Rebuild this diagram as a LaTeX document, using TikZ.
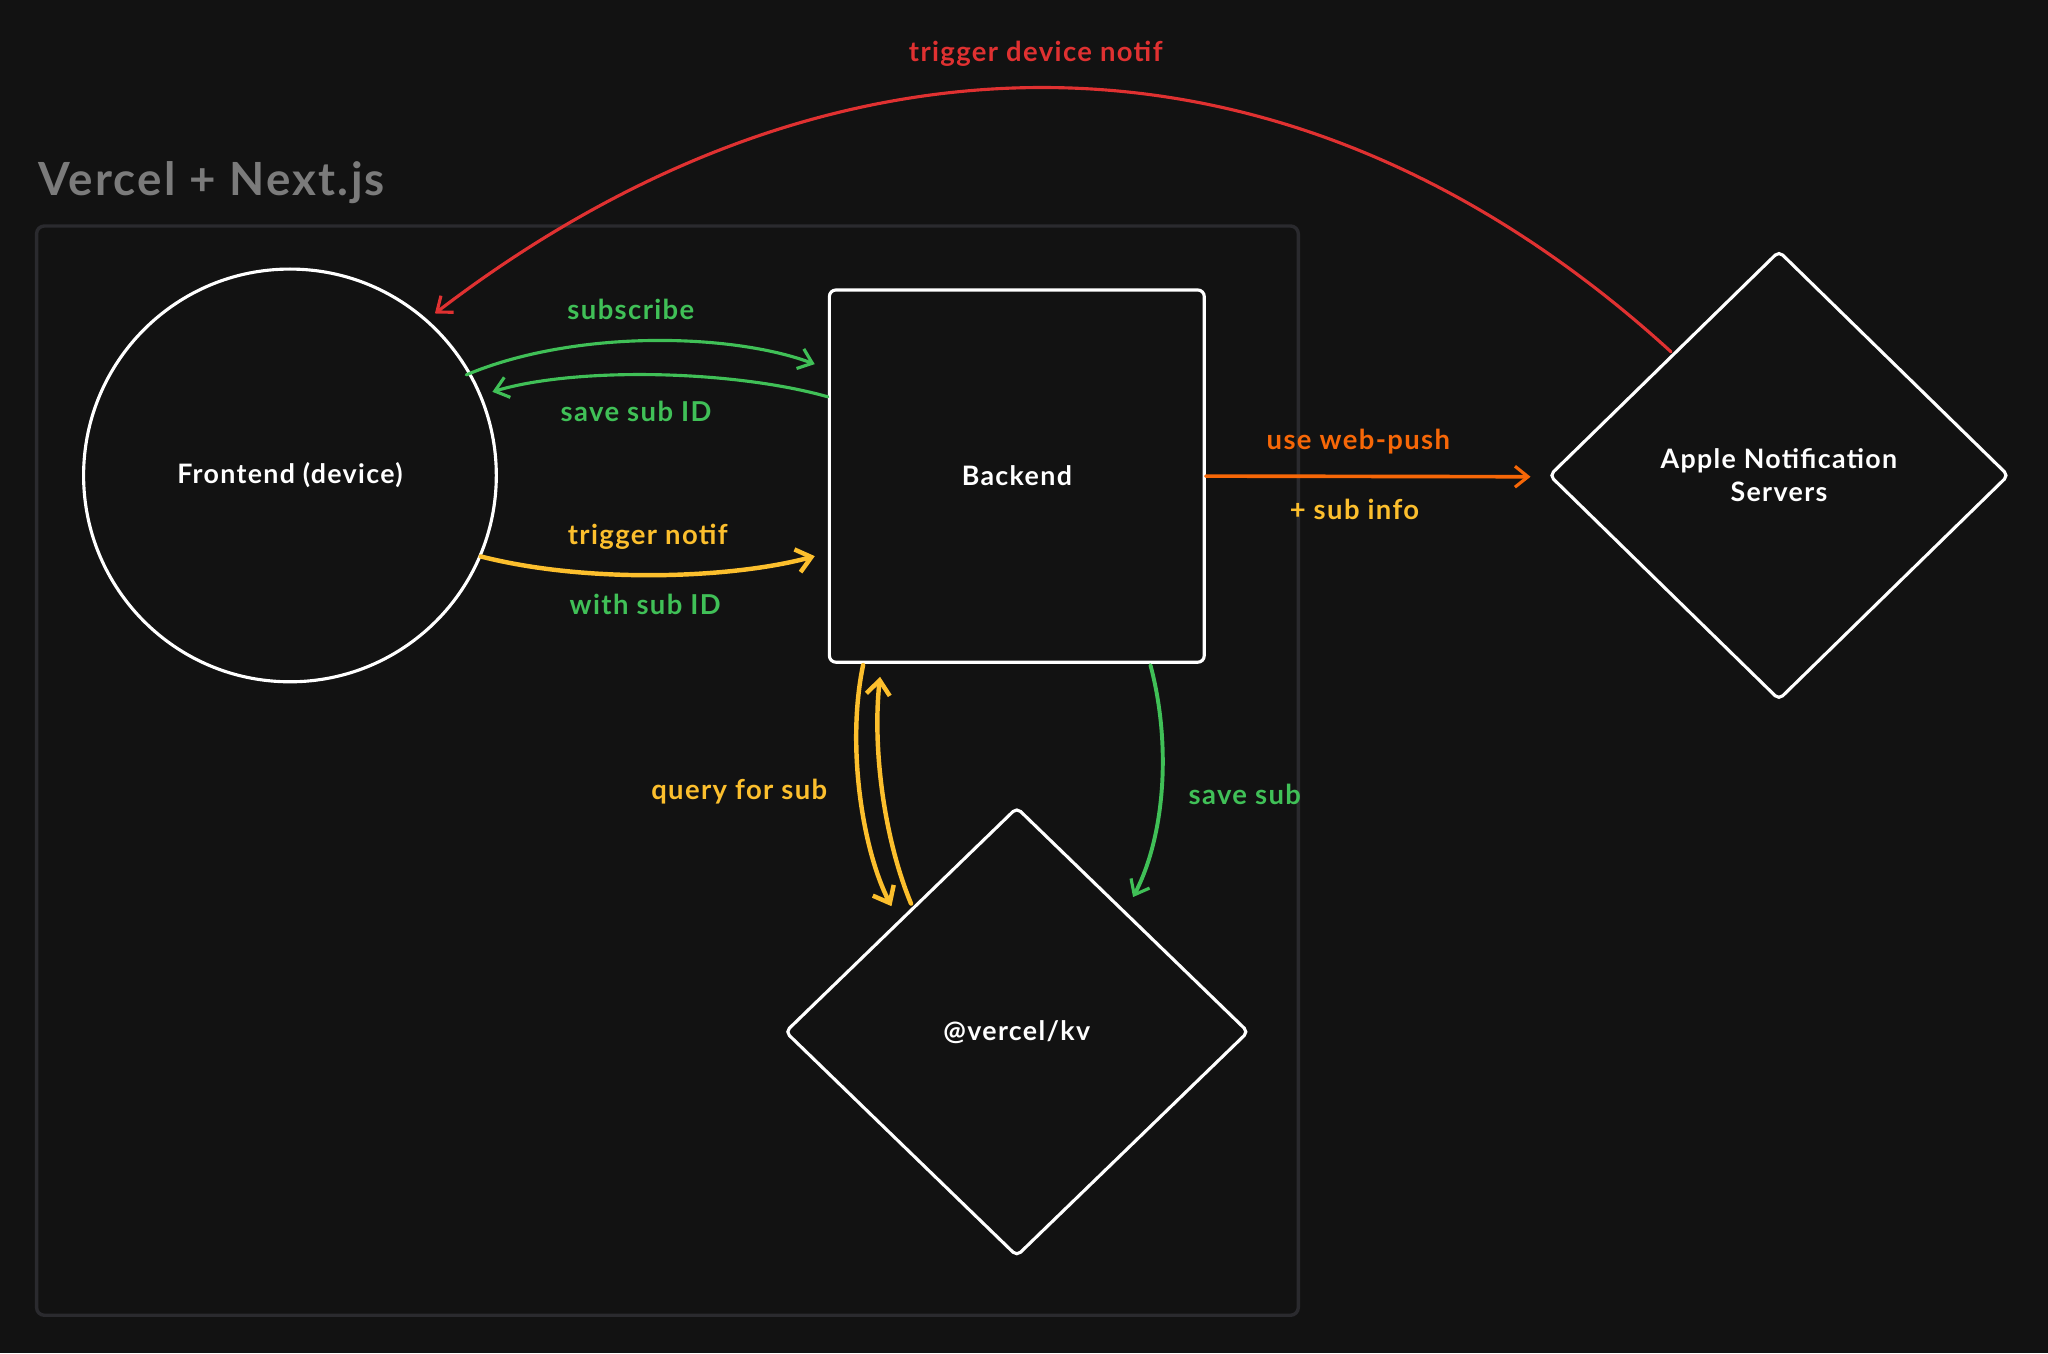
\documentclass[tikz,border=0pt]{standalone}
\usepackage{fontspec}
\setmainfont{Lato}[LetterSpace=5]
\usetikzlibrary{arrows.meta,shapes.geometric,calc}
\definecolor{bgc}{HTML}{121212}
\definecolor{framec}{HTML}{2A2A2E}
\definecolor{titlec}{HTML}{7B7B7B}
\definecolor{gre}{HTML}{40C057}
\definecolor{yel}{HTML}{FCBF2D}
\definecolor{ora}{HTML}{F76707}
\definecolor{redc}{HTML}{E03131}
\begin{document}
\begin{tikzpicture}[x=1pt,y=-1pt,
  shapebox/.style={draw=white, line width=2.4pt, text=white, inner sep=0pt,
     font=\fontsize{20.5pt}{25pt}\selectfont\bfseries, align=center},
  lbl/.style={font=\fontsize{21pt}{25pt}\selectfont\bfseries, inner sep=0pt},
  conn/.style={line width=2.4pt, line cap=round, line join=round,
     -{Straight Barb[length=10pt,width=16pt,line width=2.4pt]}},
  thick conn/.style={line width=3.4pt, line cap=round, line join=round,
     -{Straight Barb[length=11pt,width=18pt,line width=3.4pt]}}]
\fill[bgc] (0,0) rectangle (1568,1036);
\useasboundingbox (0,0) rectangle (1568,1036);

% frame
\node[draw=framec, line width=2.6pt, rounded corners=6pt, minimum width=966pt,
  minimum height=834pt, inner sep=0pt] (frame) at (511,590) {};
\node[anchor=west, text=titlec, font=\fontsize{35pt}{40pt}\selectfont\bfseries,
  inner sep=0pt] (title) at (29,140) {Vercel + Next.js};

% nodes
\node[shapebox, circle, minimum size=316pt] (fe) at (222,364) {Frontend (device)};
\node[shapebox, rectangle, rounded corners=5pt, minimum width=287pt,
  minimum height=285pt] (be) at (778.5,364.5) {Backend};
\node[shapebox, diamond, rounded corners=4pt, minimum width=352pt,
  minimum height=344pt] (apple) at (1362,364) {Apple Notification\\Servers};
\node[shapebox, diamond, rounded corners=4pt, minimum width=355pt,
  minimum height=344pt] (kv) at (778.5,790) {@vercel/kv};

% coordinates for connector ends
\coordinate (subS) at ($(fe.center)+(135,-77)$);
\coordinate (subE) at ($(be.north west)+(-10,58)$);
\coordinate (sidS) at ($(be.north west)+(0,83)$);
\coordinate (sidE) at ($(fe.center)+(155,-64)$);
\coordinate (trS) at ($(fe.center)+(146,62)$);
\coordinate (trE) at ($(be.north west)+(-10,205)$);
\coordinate (redS) at ($(apple.north west)+(6,-8)$);
\coordinate (redE) at ($(fe.center)+(111,-124)$);
\coordinate (oE) at ($(apple.west)+(-13,1)$);
\coordinate (qS) at ($(be.south west)+(27,1)$);
\coordinate (qE) at ($(kv.north)+(-96,77)$);
\coordinate (q2S) at ($(kv.north)+(-81,75)$);
\coordinate (q2E) at ($(be.south west)+(40,10)$);
\coordinate (ssS) at ($(be.south west)+(247,1)$);
\coordinate (ssE) at ($(kv.north)+(89,70)$);

% connectors
\draw[conn, redc] (redS) .. controls (990,5) and (640,5) .. (redE);
\draw[conn, gre] (subS) .. controls (440,252) and (560,255) .. (subE);
\draw[conn, gre] (sidS) .. controls (560,283) and (440,281) .. (sidE);
\draw[thick conn, yel] (trS) .. controls (450,447) and (560,443) .. (trE);
\draw[conn, ora, line width=2.8pt] (be.east) -- (oE);
\draw[thick conn, yel] (qS) .. controls (648,570) and (660,650) .. (qE);
\draw[thick conn, yel] (q2S) .. controls (676,640) and (668,570) .. (q2E);
\draw[conn, gre, line width=3pt] (ssS) .. controls (897,570) and (892,640) .. (ssE);

% labels
\node[lbl, text=redc] (l1) at (793,41) {trigger device notif};
\node[lbl, text=gre] (l2) at (483,237) {subscribe};
\node[lbl, text=gre] (l3) at (487,315) {save sub ID};
\node[lbl, text=yel] (l4) at (496,411) {trigger notif};
\node[lbl, text=gre] (l5) at (494,463) {with sub ID};
\node[lbl, text=ora] (l6) at (1040,338) {use web-push};
\node[lbl, text=yel] (l7) at (1037,390) {+ sub info};
\node[lbl, text=yel] (l8) at (566,606) {query for sub};
\node[lbl, text=gre] (l9) at (953,608) {save sub};
\end{tikzpicture}
\end{document}
